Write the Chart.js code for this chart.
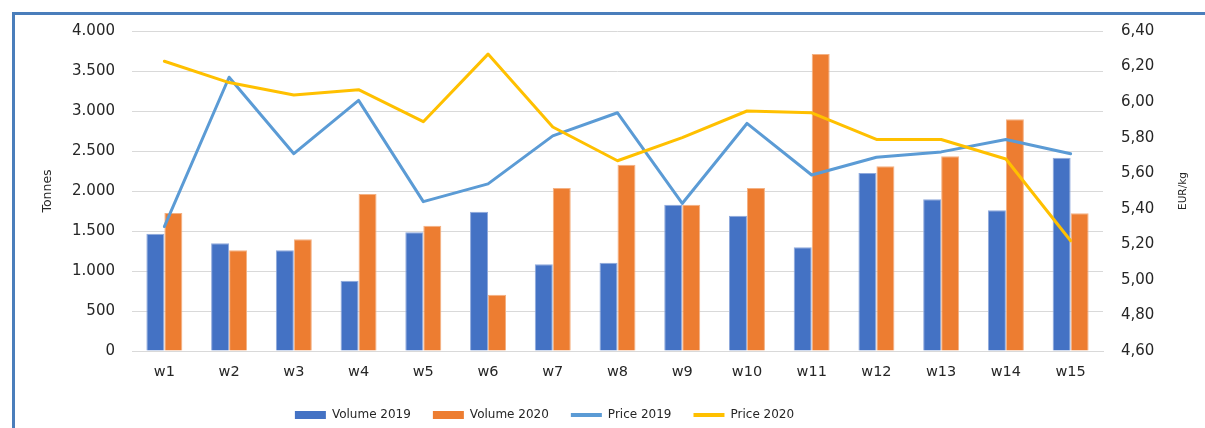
<!DOCTYPE html>
<html>
<head>
<meta charset="utf-8">
<script src="https://cdn.jsdelivr.net/npm/chart.js@4/dist/chart.umd.min.js"></script>
<style>
  html, body { margin: 0; padding: 0; background: #fff; overflow: hidden; }
  #contenedor { position: relative; width: 1205px; height: 428px; }
  #grafica { position: absolute; left: 0; top: 0; }
  #marco { position: absolute; left: 12px; top: 12px; width: 1300px; height: 500px;
           border-left: 3px solid #4a7ebb; border-top: 3px solid #4a7ebb; pointer-events: none; }
</style>
</head>
<body>
<div id="contenedor">
  <canvas id="grafica" width="1205" height="428"></canvas>
  <div id="marco"></div>
</div>
<script>
const semanas = ["w1", "w2", "w3", "w4", "w5", "w6", "w7", "w8", "w9", "w10", "w11", "w12", "w13", "w14", "w15"];
const volumen2019 = [1466, 1346, 1258, 879, 1483, 1742, 1083, 1104, 1829, 1692, 1296, 2225, 1896, 1758, 2417];
const volumen2020 = [1725, 1258, 1396, 1962, 1567, 704, 2037, 2329, 1829, 2037, 3712, 2308, 2433, 2896, 1721];
const precio2019 = [5.30, 6.14, 5.71, 6.01, 5.44, 5.54, 5.81, 5.94, 5.43, 5.88, 5.59, 5.69, 5.72, 5.79, 5.71];
const precio2020 = [6.23, 6.11, 6.04, 6.07, 5.89, 6.27, 5.86, 5.67, 5.80, 5.95, 5.94, 5.79, 5.79, 5.68, 5.22];
const ticksTonnes = ["0", "500", "1.000", "1.500", "2.000", "2.500", "3.000", "3.500", "4.000"];
const ticksPrecio = ["4,60", "4,80", "5,00", "5,20", "5,40", "5,60", "5,80", "6,00", "6,20", "6,40"];

const fuente = "'DejaVu Sans', Verdana, sans-serif";
const colorTexto = "#262626";

// titulo derecho (se lee de abajo arriba) y desplazamiento de la leyenda
const extras = {
  id: "extras",
  afterLayout(chart) {
    const ley = chart.legend;
    ley.left -= 58; ley.right -= 58;
    ley.top += 3; ley.bottom += 3;
  },
  afterDraw(chart) {
    const ctx = chart.ctx;
    const area = chart.chartArea;
    ctx.save();
    ctx.translate(1183, (area.top + area.bottom) / 2);
    ctx.rotate(-Math.PI / 2);
    ctx.font = "10.5px " + fuente;
    ctx.fillStyle = colorTexto;
    ctx.textAlign = "center";
    ctx.textBaseline = "middle";
    ctx.fillText("EUR/kg", 0, 0);
    ctx.restore();
  }
};

const ctx = document.getElementById("grafica").getContext("2d");
new Chart(ctx, {
  type: "bar",
  data: {
    labels: semanas,
    datasets: [
      { type: "bar", label: "Volume 2019", data: volumen2019, backgroundColor: "#4472c4",
        borderColor: "#8fa9dc", borderWidth: { left: 1, right: 1, top: 1, bottom: 0 },
        yAxisID: "y", order: 2, categoryPercentage: 0.556, barPercentage: 1.0 },
      { type: "bar", label: "Volume 2020", data: volumen2020, backgroundColor: "#ed7d31",
        borderColor: "#f4b183", borderWidth: { left: 1, right: 1, top: 1, bottom: 0 },
        yAxisID: "y", order: 2, categoryPercentage: 0.556, barPercentage: 1.0 },
      { type: "line", label: "Price 2019", data: precio2019, borderColor: "#5b9bd5", backgroundColor: "#5b9bd5",
        borderWidth: 3, pointRadius: 0, tension: 0, borderCapStyle: "round", borderJoinStyle: "round",
        yAxisID: "y1", order: 1 },
      { type: "line", label: "Price 2020", data: precio2020, borderColor: "#ffc000", backgroundColor: "#ffc000",
        borderWidth: 3, pointRadius: 0, tension: 0, borderCapStyle: "round", borderJoinStyle: "round",
        yAxisID: "y1", order: 0 }
    ]
  },
  options: {
    responsive: false,
    animation: false,
    layout: { padding: { top: 31, left: 0, right: 0, bottom: 0 } },
    plugins: {
      tooltip: { enabled: false },
      legend: {
        position: "bottom",
        labels: {
          usePointStyle: true,
          pointStyleWidth: 31,
          boxHeight: 8,
          padding: 22,
          color: colorTexto,
          font: { family: fuente, size: 12 },
          sort: (a, b) => a.datasetIndex - b.datasetIndex,
          generateLabels(chart) {
            const items = Chart.defaults.plugins.legend.labels.generateLabels(chart);
            items.forEach(it => {
              const ds = chart.data.datasets[it.datasetIndex];
              if (ds.type === "line") {
                it.pointStyle = "line";
                it.strokeStyle = ds.borderColor;
                it.lineWidth = 4;
              } else {
                it.pointStyle = "rect";
                it.fillStyle = ds.backgroundColor;
                it.lineWidth = 0;
              }
            });
            return items;
          }
        }
      }
    },
    scales: {
      x: {
        grid: { display: false, drawTicks: false },
        border: { color: "#d9d9d9" },
        ticks: { padding: 13, color: colorTexto, font: { family: fuente, size: 14.5 } },
        afterFit(s) { s.height = 33; }
      },
      y: {
        position: "left",
        min: 0, max: 4000,
        ticks: { stepSize: 500, padding: 17, color: colorTexto, font: { family: fuente, size: 15 },
                 callback: (v, i) => ticksTonnes[i] },
        grid: { color: "#d9d9d9", drawTicks: false },
        border: { display: false },
        title: { display: true, text: "Tonnes", color: colorTexto, font: { family: fuente, size: 12.5 },
                 padding: { top: 40, bottom: 0 } },
        afterFit(s) { s.width = 132; }
      },
      y1: {
        position: "right",
        min: 4.6, max: 6.4,
        ticks: { stepSize: 0.2, padding: 18, color: colorTexto, font: { family: fuente, size: 15 },
                 callback: (v, i) => ticksPrecio[i] },
        grid: { display: false, drawTicks: false },
        border: { display: false },
        afterFit(s) { s.width = 102; }
      }
    }
  },
  plugins: [extras]
});
</script>
</body>
</html>
